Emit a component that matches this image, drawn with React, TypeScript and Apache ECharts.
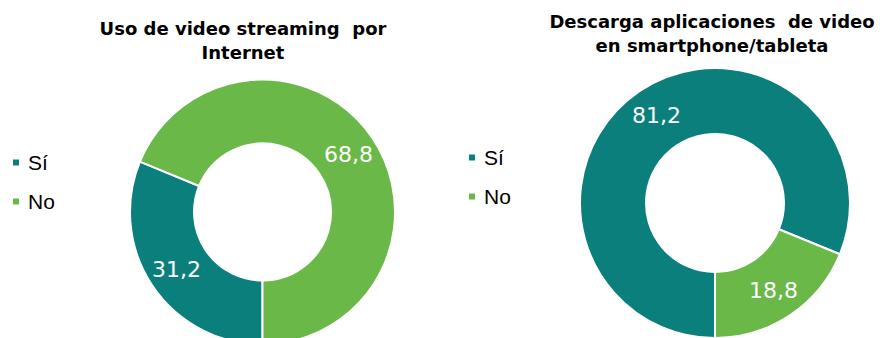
import React, { useEffect, useRef } from "react";
import * as echarts from "echarts";

const categories = ["Sí", "No"];
const streamingValues = [31.2, 68.8];
const appValues = [81.2, 18.8];
const titles = ["Uso de video streaming  por\nInternet", "Descarga aplicaciones  de video\nen smartphone/tableta"];
const colors = ["#0A7F7C", "#6AB847"];

export default function App() {
  const ref = useRef<HTMLDivElement>(null);
  useEffect(() => {
    if (!ref.current) return;
    const chart = echarts.init(ref.current, null, { renderer: "svg" });
    const fmt = (p: any) => String(p.value).replace(".", ",");
    const label = {
      show: true,
      position: "inside",
      formatter: fmt,
      color: "#ffffff",
      fontFamily: "DejaVu Sans",
      fontSize: 22,
    };
    const titleStyle = {
      fontFamily: "DejaVu Sans",
      fontWeight: "bold" as const,
      fontSize: 18,
      lineHeight: 24,
      color: "#000000",
    };
    const legendBase = {
      orient: "vertical" as const,
      data: categories,
      icon: "rect",
      itemWidth: 8,
      itemHeight: 8,
      itemGap: 18,
      selectedMode: false,
      textStyle: {
        fontFamily: "Liberation Sans",
        fontSize: 21,
        lineHeight: 20,
        color: "#000000",
        padding: [0, 0, 0, 3],
      },
    };
    const mkData = (vals: number[]) =>
      categories.map((c, i) => ({ name: c, value: vals[i], itemStyle: { color: colors[i] } }));
    chart.setOption({
      animation: false,
      title: [
        { text: titles[0], left: 243, top: 16, textAlign: "center", textStyle: titleStyle, padding: 0 },
        { text: titles[1], left: 712, top: 9, textAlign: "center", textStyle: titleStyle, padding: 0 },
      ],
      legend: [
        { ...legendBase, left: 11, top: 152, padding: 0 },
        { ...legendBase, left: 467, top: 147, padding: 0 },
      ],
      series: [
        {
          type: "pie",
          center: [262.5, 212],
          radius: [68.5, 132.5],
          startAngle: 270,
          clockwise: true,
          label,
          labelLine: { show: false },
          itemStyle: { borderColor: "#ffffff", borderWidth: 2 },
          emphasis: { disabled: true },
          data: mkData(streamingValues),
        },
        {
          type: "pie",
          center: [715, 203],
          radius: [69, 135],
          startAngle: 270,
          clockwise: true,
          label,
          labelLine: { show: false },
          itemStyle: { borderColor: "#ffffff", borderWidth: 2 },
          emphasis: { disabled: true },
          data: mkData(appValues),
        },
      ],
    });
    return () => chart.dispose();
  }, []);
  return (
    <div
      ref={ref}
      style={{ position: "fixed", left: 0, top: 0, width: 885, height: 338, background: "#ffffff" }}
    />
  );
}
